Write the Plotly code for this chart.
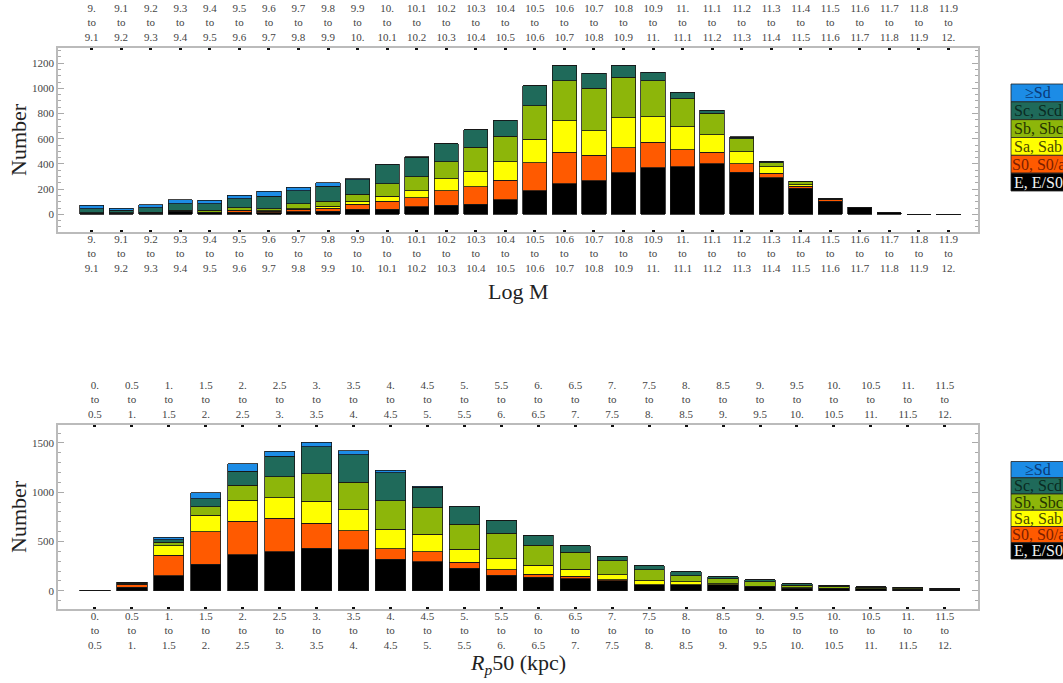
import plotly.graph_objects as go

# ---------------- data ----------------
types = ["E, E/S0", "S0, S0/a", "Sa, Sab", "Sb, Sbc", "Sc, Scd", "≥Sd"]
colors = ["#000000", "#FF5A00", "#FFFF00", "#8DB60A", "#1F6A5A", "#1C8CE6"]
text_colors = ["#F2F2F2", "#7A1E00", "#4A4A00", "#243300", "#0A2A22", "#0A3A78"]

mass_lo = ["9.", "9.1", "9.2", "9.3", "9.4", "9.5", "9.6", "9.7", "9.8", "9.9",
           "10.", "10.1", "10.2", "10.3", "10.4", "10.5", "10.6", "10.7", "10.8", "10.9",
           "11.", "11.1", "11.2", "11.3", "11.4", "11.5", "11.6", "11.7", "11.8", "11.9"]
mass_hi = ["9.1", "9.2", "9.3", "9.4", "9.5", "9.6", "9.7", "9.8", "9.9", "10.",
           "10.1", "10.2", "10.3", "10.4", "10.5", "10.6", "10.7", "10.8", "10.9", "11.",
           "11.1", "11.2", "11.3", "11.4", "11.5", "11.6", "11.7", "11.8", "11.9", "12."]

mass_E  = [10, 8, 10, 20, 12, 16, 13, 20, 24, 40, 40, 60, 72, 80, 114, 188, 241, 267, 331, 370,
           378, 400, 336, 291, 207, 103, 56, 13, 2, 1]
mass_S0 = [1, 1, 1, 3, 3, 14, 12, 20, 25, 42, 65, 72, 114, 138, 157, 222, 252, 201, 199, 201,
           133, 93, 64, 37, 16, 12, 0, 0, 0, 0]
mass_Sa = [1, 1, 1, 2, 3, 4, 3, 6, 14, 24, 37, 56, 98, 125, 146, 185, 249, 196, 238, 204,
           185, 138, 98, 48, 10, 5, 0, 0, 0, 0]
mass_Sb = [2, 2, 3, 8, 13, 18, 17, 38, 42, 53, 100, 111, 135, 191, 201, 265, 318, 336, 320, 284,
           223, 172, 101, 34, 26, 5, 0, 0, 0, 0]
mass_Sc = [30, 20, 36, 53, 53, 70, 100, 103, 118, 115, 150, 156, 140, 136, 126, 159, 122, 117, 93, 64,
           45, 21, 13, 10, 4, 3, 0, 0, 0, 0]
mass_Sd = [28, 16, 27, 30, 29, 29, 40, 28, 26, 10, 5, 3, 3, 2, 1, 1, 1, 1, 1, 3,
           5, 3, 2, 1, 0, 0, 0, 0, 0, 0]

rp_lo = ["0.", "0.5", "1.", "1.5", "2.", "2.5", "3.", "3.5", "4.", "4.5", "5.", "5.5",
         "6.", "6.5", "7.", "7.5", "8.", "8.5", "9.", "9.5", "10.", "10.5", "11.", "11.5"]
rp_hi = ["0.5", "1.", "1.5", "2.", "2.5", "3.", "3.5", "4.", "4.5", "5.", "5.5", "6.",
         "6.5", "7.", "7.5", "8.", "8.5", "9.", "9.5", "10.", "10.5", "11.", "11.5", "12."]

rp_E  = [3, 36, 152, 270, 365, 395, 433, 416, 321, 297, 226, 155, 139, 122, 104, 61,
         61, 61, 43, 26, 23, 18, 17, 16]
rp_S0 = [0, 32, 206, 327, 342, 341, 250, 193, 105, 98, 61, 57, 30, 27, 7, 2,
         2, 1, 1, 1, 1, 1, 1, 1]
rp_Sa = [0, 6, 101, 169, 213, 209, 226, 213, 196, 176, 135, 115, 88, 71, 54, 41,
         27, 7, 3, 3, 2, 2, 2, 1]
rp_Sb = [0, 8, 34, 88, 149, 213, 277, 280, 291, 274, 253, 257, 206, 172, 142, 111,
         64, 54, 46, 28, 20, 14, 12, 6]
rp_Sc = [0, 6, 24, 81, 145, 206, 277, 280, 287, 206, 180, 132, 98, 64, 44, 41,
         37, 20, 18, 12, 8, 6, 5, 3]
rp_Sd = [0, 0, 27, 61, 74, 54, 44, 41, 24, 10, 4, 2, 2, 0, 0, 0,
         0, 0, 0, 0, 0, 0, 0, 0]

mass_series = [mass_E, mass_S0, mass_Sa, mass_Sb, mass_Sc, mass_Sd]
rp_series = [rp_E, rp_S0, rp_Sa, rp_Sb, rp_Sc, rp_Sd]

mass_cats = [f"{a} to {b}" for a, b in zip(mass_lo, mass_hi)]
rp_cats = [f"{a} to {b}" for a, b in zip(rp_lo, rp_hi)]
mass_ticktext = [f"{a}<br>to<br>{b}" for a, b in zip(mass_lo, mass_hi)]
rp_ticktext = [f"{a}<br>to<br>{b}" for a, b in zip(rp_lo, rp_hi)]

# ---------------- figure ----------------
W, H = 1063, 683
SERIF = "Liberation Serif, Times New Roman, serif"

def px_x(p):
    return p / W

def px_y(p):
    return 1 - p / H

fig = go.Figure()
for k in range(6):
    fig.add_trace(go.Bar(x=mass_cats, y=mass_series[k], name=types[k],
                         marker=dict(color=colors[k], line=dict(color="#151515", width=0.8)),
                         width=0.82, xaxis="x", yaxis="y", showlegend=False, hoverinfo="x+y+name"))
for k in range(6):
    fig.add_trace(go.Bar(x=rp_cats, y=rp_series[k], name=types[k],
                         marker=dict(color=colors[k], line=dict(color="#151515", width=0.8)),
                         width=0.82, xaxis="x2", yaxis="y2", showlegend=False, hoverinfo="x+y+name"))
# invisible carriers for the top (mirrored) category axes
fig.add_trace(go.Scatter(x=mass_cats, y=[0] * len(mass_cats), mode="markers",
                         marker=dict(opacity=0), xaxis="x3", yaxis="y",
                         showlegend=False, hoverinfo="skip"))
fig.add_trace(go.Scatter(x=rp_cats, y=[0] * len(rp_cats), mode="markers",
                         marker=dict(opacity=0), xaxis="x4", yaxis="y2",
                         showlegend=False, hoverinfo="skip"))

xdom = [px_x(58), px_x(978)]
ydom1 = [px_y(232), px_y(48)]
ydom2 = [px_y(609), px_y(425)]

tickfont = dict(family=SERIF, size=11, color="#444444")
frame = "#BBBBBB"

def cat_axis(cats, text, rng, side, anchor, overlay=None, showline=True, standoff=0):
    d = dict(type="category", range=rng, tickmode="array", tickvals=cats, ticktext=text,
             ticks="inside", ticklen=2, tickwidth=3, tickcolor="#111111",
             showgrid=False, zeroline=False, tickfont=tickfont, side=side, anchor=anchor,
             showline=showline, linecolor=frame, linewidth=1.5, fixedrange=True,
             ticklabelstandoff=standoff)
    if overlay:
        d["overlaying"] = overlay
    else:
        d["domain"] = xdom
        d["mirror"] = True
    return d

def num_axis(rng, dtick, minor, dom, anchor):
    return dict(domain=dom, anchor=anchor, range=rng, tick0=0, dtick=dtick,
                ticks="inside", ticklen=6, tickwidth=1, tickcolor="#AAAAAA",
                minor=dict(dtick=minor, tick0=0, ticks="inside", ticklen=3, tickcolor="#AAAAAA"),
                showline=True, linecolor=frame, linewidth=1.5, mirror="ticks",
                showgrid=False, zeroline=False, tickfont=tickfont, fixedrange=True)

fig.update_layout(
    width=W, height=H, template="none", barmode="stack",
    paper_bgcolor="white", plot_bgcolor="white",
    margin=dict(l=0, r=0, t=0, b=0),
    xaxis=cat_axis(mass_cats, mass_ticktext, [-1.14, 30.0], "bottom", "y", standoff=-4),
    xaxis3=cat_axis(mass_cats, mass_ticktext, [-1.14, 30.0], "top", "y", overlay="x",
                    showline=False, standoff=4),
    yaxis=num_axis([-140, 1320], 200, 50, ydom1, "x"),
    xaxis2=cat_axis(rp_cats, rp_ticktext, [-1.0, 23.9], "bottom", "y2", standoff=-4),
    xaxis4=cat_axis(rp_cats, rp_ticktext, [-1.0, 23.9], "top", "y2", overlay="x2",
                    showline=False, standoff=4),
    yaxis2=num_axis([-185, 1682], 500, 100, ydom2, "x2"),
    showlegend=False,
)

# axis titles
ann = [
    dict(text="Log M", x=px_x(518), y=px_y(291), font=dict(family=SERIF, size=22, color="#222")),
    dict(text="<i>R</i><sub><i>p</i></sub>50 (kpc)", x=px_x(518), y=px_y(664),
         font=dict(family=SERIF, size=22, color="#222")),
    dict(text="Number", x=px_x(18), y=px_y(140), textangle=-90,
         font=dict(family=SERIF, size=22, color="#222")),
    dict(text="Number", x=px_x(18), y=px_y(517), textangle=-90,
         font=dict(family=SERIF, size=22, color="#222")),
]
for a in ann:
    a.update(xref="paper", yref="paper", showarrow=False, xanchor="center", yanchor="middle")

# custom legends (stacked colour swatches with labels)
shapes = []
for top, bottom in [(84, 191), (461.5, 559)]:
    row = (bottom - top) / 6
    for i in range(6):
        k = 5 - i
        y0 = top + i * row
        y1 = y0 + row
        shapes.append(dict(type="rect", xref="paper", yref="paper",
                           x0=px_x(1011), x1=px_x(1070), y0=px_y(y1), y1=px_y(y0),
                           fillcolor=colors[k], line=dict(color="#222222", width=0.8)))
        ann.append(dict(text=types[k], x=px_x(1038), y=px_y((y0 + y1) / 2), xref="paper", yref="paper",
                        showarrow=False, xanchor="center", yanchor="middle",
                        font=dict(family=SERIF, size=16, color=text_colors[k])))

fig.update_layout(annotations=ann, shapes=shapes)
fig.write_html("out.html", config={"displayModeBar": False},
               post_script="document.body.style.margin='0';document.body.style.overflow='hidden';")
